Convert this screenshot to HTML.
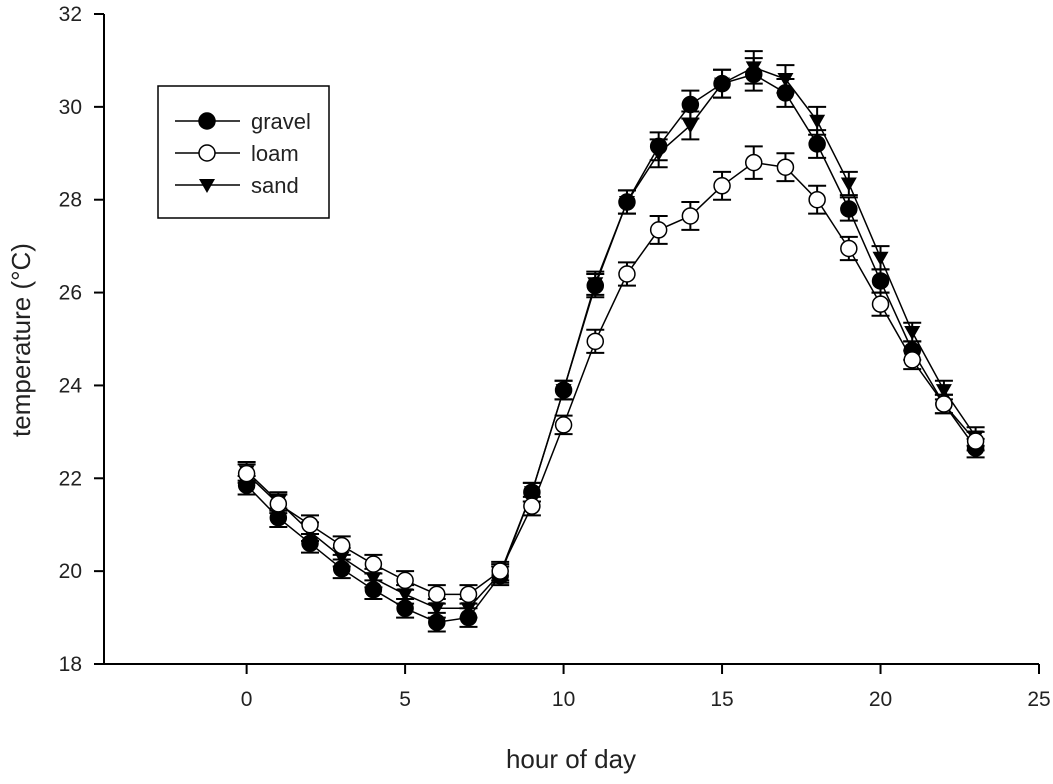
<!DOCTYPE html>
<html><head><meta charset="utf-8"><style>
body{margin:0;background:#fff}
svg text{font-family:"Liberation Sans",Arial,sans-serif;fill:#222}
</style></head><body>
<svg id="chart" width="1053" height="779"></svg>
<script>
const hours=[0,1,2,3,4,5,6,7,8,9,10,11,12,13,14,15,16,17,18,19,20,21,22,23];
const gravel=[21.85,21.15,20.6,20.05,19.6,19.2,18.9,19.0,19.9,21.7,23.9,26.15,27.95,29.15,30.05,30.5,30.7,30.3,29.2,27.8,26.25,24.75,23.6,22.65];
const loam=[22.1,21.45,21.0,20.55,20.15,19.8,19.5,19.5,20.0,21.4,23.15,24.95,26.4,27.35,27.65,28.3,28.8,28.7,28.0,26.95,25.75,24.55,23.6,22.8];
const sand=[22.15,21.5,20.85,20.3,19.85,19.5,19.2,19.2,19.95,21.7,23.9,26.2,27.95,29.0,29.6,30.5,30.85,30.6,29.7,28.35,26.75,25.15,23.9,22.9];
const errs=[0.2,0.2,0.2,0.2,0.2,0.2,0.2,0.2,0.2,0.2,0.2,0.25,0.25,0.3,0.3,0.3,0.35,0.3,0.3,0.25,0.25,0.2,0.2,0.2];
const xTicks=[0,5,10,15,20,25];
const yTicks=[18,20,22,24,26,28,30,32];
const X0=104,X1=1039,Y0=664,Y1=14,xmin=-4.5,xmax=25,ymin=18,ymax=32;
const xs=v=>X0+(v-xmin)/(xmax-xmin)*(X1-X0);
const ys=v=>Y0-(v-ymin)/(ymax-ymin)*(Y0-Y1);
const svg=document.getElementById('chart');const NS='http://www.w3.org/2000/svg';
function mk(t,a,p){const e=document.createElementNS(NS,t);for(const k in a)e.setAttribute(k,a[k]);(p||svg).appendChild(e);return e;}
let ax=mk('path',{d:`M${X0},${Y1}V${Y0}H${X1}`,stroke:'#000','stroke-width':2,fill:'none'});


xTicks.forEach(t=>{const g=mk('g',{});


mk('line',{x1:xs(t),x2:xs(t),y1:Y0,y2:Y0+10,stroke:'#000','stroke-width':2},g);
const tx=mk('text',{x:xs(t),y:Y0+42,'text-anchor':'middle','font-size':21},g);tx.textContent=t;});
yTicks.forEach(t=>{const g=mk('g',{});


mk('line',{x1:X0-10,x2:X0,y1:ys(t),y2:ys(t),stroke:'#000','stroke-width':2},g);
const tx=mk('text',{x:X0-22,y:ys(t)+7,'text-anchor':'end','font-size':21},g);tx.textContent=t;});
let yt=mk('text',{x:0,y:0,transform:'translate(30,340) rotate(-90)','text-anchor':'middle','font-size':26});yt.textContent='temperature (°C)';


let xt=mk('text',{x:571,y:768,'text-anchor':'middle','font-size':26});xt.textContent='hour of day';


function marker(type,x,y,g){
 if(type==='tri') return mk('path',{d:`M${x-8},${y-6}L${x+8},${y-6}L${x},${y+8}Z`,fill:'#000'},g);
 return mk('circle',{cx:x,cy:y,r:8,fill:type==='open'?'#fff':'#000',stroke:'#000','stroke-width':1.5},g);
}
function series(name,vals,type){
 const g=mk('g',{});
 
 
 mk('polyline',{points:hours.map((h,i)=>xs(h)+','+ys(vals[i])).join(' '),fill:'none',stroke:'#000','stroke-width':1.5},g);
 hours.forEach((h,i)=>{const x=xs(h),a=ys(vals[i]+errs[i]),b=ys(vals[i]-errs[i]);
  mk('path',{d:`M${x},${a}V${b}M${x-9},${a}H${x+9}M${x-9},${b}H${x+9}`,stroke:'#000','stroke-width':2},g);});
 hours.forEach((h,i)=>{const m=marker(type,xs(h),ys(vals[i]),g);
  
  });
}
series('sand',sand,'tri');series('gravel',gravel,'filled');series('loam',loam,'open');
const lg=mk('g',{});


mk('rect',{x:158,y:86,width:171,height:132,fill:'#fff',stroke:'#000','stroke-width':1.5},lg);
[['gravel','filled',121],['loam','open',153],['sand','tri',185]].forEach(([n,t,y])=>{
 const e=mk('g',{},lg);
 
 
 mk('line',{x1:175,x2:240,y1:y,y2:y,stroke:'#000','stroke-width':1.5},e);
 marker(t,207,y,e);
 const tx=mk('text',{x:251,y:y+8,'font-size':22},e);tx.textContent=n;});
</script>
</body></html>
